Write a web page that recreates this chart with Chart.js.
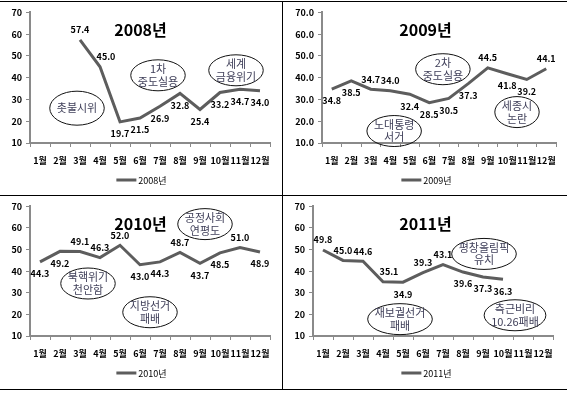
<!DOCTYPE html>
<html><head><meta charset="utf-8">
<script src="https://cdn.jsdelivr.net/npm/chart.js@4/dist/chart.umd.min.js"></script>
<style>
html,body{margin:0;padding:0;background:#fff;}
#wrap{position:relative;width:567px;height:395px;overflow:hidden;background:#fff;}
#wrap canvas{position:absolute;}
.hl{position:absolute;left:0;width:567px;height:1px;background:#000;z-index:5;}
.vl{position:absolute;width:1px;background:#000;z-index:5;}
</style></head><body>
<div id="wrap">
  <div class="hl" style="top:1px"></div>
  <div class="hl" style="top:195px"></div>
  <div class="hl" style="top:389px"></div>
  <div class="vl" style="left:282px;top:1px;height:389px"></div>
</div>
<script>
// ---- data ----
const months = ['1월','2월','3월','4월','5월','6월','7월','8월','9월','10월','11월','12월'];
const years = ['2008년','2009년','2010년','2011년'];
const yTicksInt = ['10','20','30','40','50','60','70'];
const yTicksDec = ['10.0','20.0','30.0','40.0','50.0','60.0','70.0'];

const values2008 = [null, null, 57.4, 45.0, 19.7, 21.5, 26.9, 32.8, 25.4, 33.2, 34.7, 34.0];
const values2009 = [34.8, 38.5, 34.7, 34.0, 32.4, 28.5, 30.5, 37.3, 44.5, 41.8, 39.2, 44.1];
const values2010 = [44.3, 49.2, 49.1, 46.3, 52.0, 43.0, 44.3, 48.7, 43.7, 48.5, 51.0, 48.9];
const values2011 = [49.8, 45.0, 44.6, 35.1, 34.9, 39.3, 43.1, 39.6, 37.3, 36.3, null, null];

// value label placement: a = above, ar = above right, b = below
const labelSide2008 = [null, null, 'a', 'ar', 'b', 'b', 'b', 'b', 'b', 'b', 'b', 'b'];
const labelSide2009 = ['b', 'b', 'a', 'a', 'b', 'b', 'b', 'b', 'a', 'b', 'b', 'a'];
const labelSide2010 = ['b', 'b', 'a', 'a', 'a', 'b', 'b', 'a', 'b', 'b', 'a', 'b'];
const labelSide2011 = ['a', 'a', 'a', 'ar', 'b', 'a', 'a', 'b', 'b', 'b', null, null];

// event notes: text and anchor in data space [month index, value]
const notes2008 = ['촛불시위', '1차\n중도실용', '세계\n금융위기'];
const notesAt2008 = [[1.85, 26.0], [5.9, 41.1], [9.8, 43.4]];
const notes2009 = ['2차\n중도실용', '노대통령\n서거', '세종시\n논란'];
const notesAt2009 = [[5.7, 43.9], [3.2, 15.5], [9.5, 24.2]];
const notes2010 = ['북핵위기\n천안함', '지방선거\n패배', '공정사회\n연평도'];
const notesAt2010 = [[2.4, 34.3], [5.5, 21.0], [8.25, 61.8]];
const notes2011 = ['재보궐선거\n패배', '평창올림픽\n유치', '측근비리\n10.26패배'];
const notesAt2011 = [[3.85, 17.8], [8.05, 48.0], [9.6, 19.6]];

// ---- drawing ----
const FONT = '"Noto Sans CJK KR", "Noto Sans", sans-serif';
Chart.defaults.font.family = FONT;
const LINE_COLOR = '#5d5d5d';
const AXIS_COLOR = '#8a8a8a';

const panelPlugin = {
  id: 'panel',
  afterDatasetsDraw(chart) {
    const cfg = chart.options.plugins.panel;
    const {ctx, chartArea, scales: {x, y}} = chart;
    const meta = chart.getDatasetMeta(0);
    ctx.save();
    // value labels
    ctx.font = 'bold 9px ' + FONT;
    ctx.fillStyle = '#000';
    ctx.textAlign = 'center';
    ctx.textBaseline = 'middle';
    cfg.values.forEach((v, i) => {
      if (v === null || !cfg.sides[i]) return;
      const el = meta.data[i];
      const s = cfg.sides[i];
      let dx = 0, dy = 12;
      if (s[0] === 'a') dy = -10;
      if (s === 'ar') dx = 6;
      ctx.fillText(v.toFixed(1), el.x + dx, el.y + dy);
    });
    // notes
    ctx.font = '11px ' + FONT;
    cfg.notes.forEach((t, k) => {
      const [ci, val] = cfg.notesAt[k];
      const cx = x.getPixelForValue(ci), cy = y.getPixelForValue(val);
      const lines = t.split('\n');
      const w = Math.max(...lines.map(l => ctx.measureText(l).width));
      ctx.beginPath();
      ctx.ellipse(cx, cy, w / 2 + 7, lines.length > 1 ? 15.5 : 17, 0, 0, Math.PI * 2);
      ctx.strokeStyle = '#111';
      ctx.lineWidth = 1;
      ctx.stroke();
      ctx.fillStyle = '#40405a';
      lines.forEach((l, j) => ctx.fillText(l, cx, cy + (j - (lines.length - 1) / 2) * 12.5));
    });
    // title
    ctx.font = 'bold 16px ' + FONT;
    ctx.fillStyle = '#000';
    ctx.fillText(cfg.title, chart.width / 2, chartArea.top + 18);
    // legend
    ctx.font = '9px ' + FONT;
    const lbl = chart.data.datasets[0].label;
    const tw = ctx.measureText(lbl).width;
    const total = 20 + 2 + tw;
    const sx = chart.width / 2 - total / 2 + 1;
    const ly = chartArea.bottom + 37;
    ctx.fillStyle = LINE_COLOR;
    ctx.fillRect(sx, ly - 1.5, 20, 3);
    ctx.fillStyle = '#000';
    ctx.textAlign = 'left';
    ctx.fillText(lbl, sx + 22, ly + 1);
    ctx.restore();
  }
};

function makeChart(box, title, values, sides, notes, notesAt, tickLabels) {
  const [x0, y0, w, h, L, R, T, B] = box;
  const cv = document.createElement('canvas');
  cv.width = w; cv.height = h;
  cv.style.left = x0 + 'px'; cv.style.top = y0 + 'px';
  cv.style.width = w + 'px'; cv.style.height = h + 'px';
  document.getElementById('wrap').appendChild(cv);
  new Chart(cv, {
    type: 'line',
    data: {
      labels: months,
      datasets: [{
        label: title,
        data: values,
        borderColor: LINE_COLOR,
        backgroundColor: LINE_COLOR,
        borderWidth: 3,
        pointRadius: 0,
        tension: 0,
        fill: false
      }]
    },
    options: {
      responsive: false,
      animation: false,
      devicePixelRatio: 1,
      layout: {padding: {top: T - y0, left: 0, right: x0 + w - R, bottom: 0}},
      plugins: {
        legend: {display: false},
        tooltip: {enabled: false},
        panel: {title, values, sides, notes, notesAt}
      },
      scales: {
        x: {
          offset: true,
          grid: {offset: true, drawOnChartArea: false, drawTicks: true, tickLength: 4, color: AXIS_COLOR, lineWidth: 1},
          border: {display: true, color: AXIS_COLOR, width: 2},
          ticks: {font: {size: 9, weight: 'bold'}, color: '#000', padding: 8, autoSkip: false, maxRotation: 0, minRotation: 0},
          afterFit: s => { s.height = y0 + h - B; }
        },
        y: {
          min: 10, max: 70,
          grid: {drawOnChartArea: false, drawTicks: true, tickLength: 4, color: AXIS_COLOR, lineWidth: 1},
          border: {display: true, color: AXIS_COLOR, width: 2},
          ticks: {stepSize: 10, font: {size: 9, weight: 'bold'}, color: '#000', padding: 4,
                  callback: v => tickLabels[Math.round((v - 10) / 10)]},
          afterFit: s => { s.width = L - x0; }
        }
      }
    },
    plugins: [panelPlugin]
  });
}

makeChart([0, 3, 281, 191, 30, 270, 12, 143], years[0], values2008, labelSide2008, notes2008, notesAt2008, yTicksInt);
makeChart([284, 3, 283, 191, 322, 556, 12, 143], years[1], values2009, labelSide2009, notes2009, notesAt2009, yTicksDec);
makeChart([0, 197, 281, 191, 30, 270, 205, 336], years[2], values2010, labelSide2010, notes2010, notesAt2010, yTicksInt);
makeChart([284, 197, 283, 191, 313, 553, 206, 336], years[3], values2011, labelSide2011, notes2011, notesAt2011, yTicksInt);
</script>
</body></html>
